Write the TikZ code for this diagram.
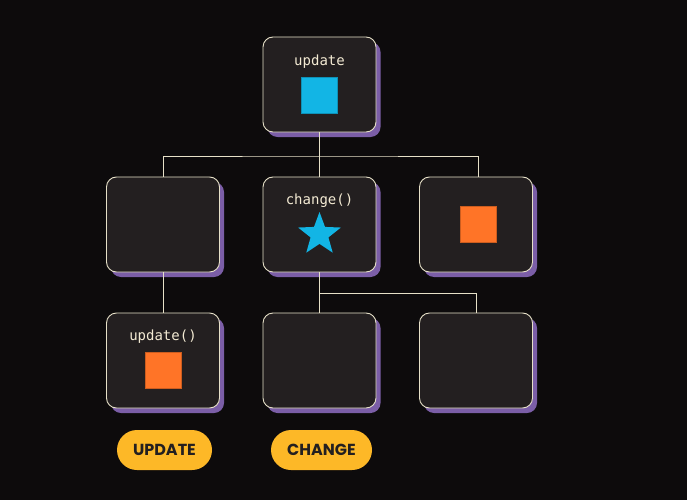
\documentclass[tikz,border=0pt]{standalone}
\usepackage{fontspec}
\setmonofont{DejaVu Sans Mono}
\newfontfamily\pillfont{Poppins}
\usetikzlibrary{shapes.geometric,shadows}

\definecolor{bgdark}{HTML}{0D0B0C}
\definecolor{boxfill}{HTML}{231F20}
\definecolor{boxline}{HTML}{E6E0C8}
\definecolor{shadowpurple}{HTML}{7B5EA7}
\definecolor{codecream}{HTML}{F3EAD3}
\definecolor{cubeblue}{HTML}{12B5E5}
\definecolor{cubeorange}{HTML}{FF7427}
\definecolor{pillyellow}{HTML}{FDB827}

\tikzset{
  statebox/.style={draw=boxline, line width=0.9pt, fill=boxfill, rounded corners=10pt,
    minimum width=113pt, minimum height=95pt, inner sep=0pt,
    general shadow={fill=shadowpurple, shadow xshift=4.5pt, shadow yshift=-5pt}},
  codelabel/.style={text=codecream, font=\ttfamily\fontsize{14}{16}\selectfont, inner sep=0pt},
  cube/.style={minimum size=36pt, inner sep=0pt, draw=#1!80!black, line width=0.4pt, fill=#1},
  pill/.style={fill=pillyellow, rounded corners=20pt, minimum height=40pt, inner sep=0pt,
    text=boxfill, font=\pillfont\bfseries\fontsize{16}{18}\selectfont},
  wire/.style={draw=boxline, line width=0.8pt}
}

\begin{document}
\begin{tikzpicture}[x=1pt, y=-1pt]

% Dimensions
\def\colA{163}
\def\colB{319.5}
\def\colC{476}
\def\rowA{84.5}
\def\rowB{224.5}
\def\rowC{360.5}

% Background
\fill[bgdark] (0,0) rectangle (687,500);
\useasboundingbox (0,0) rectangle (687,500);

% Tree of boxes
\node[statebox] (top) at (\colB,\rowA) {};
\foreach \name/\x in {ml/\colA, mc/\colB, mr/\colC} {
    \node[statebox] (\name) at (\x,\rowB) {};
}
\foreach \name/\x in {bl/\colA, bc/\colB, br/\colC} {
    \node[statebox] (\name) at (\x,\rowC) {};
}

% Connectors
\coordinate (topjoin) at (\colB,156);
\coordinate (midjoin) at (\colB,293);
\draw[wire] (top.south) -- (mc.north);
\draw[wire] (ml.north) |- (topjoin) -| ([xshift=2pt]mr.north);
\draw[wire] (ml.south) -- (bl.north);
\draw[wire] (mc.south) -- (bc.north);
\draw[wire] (midjoin) -| (br.north);

% Box contents
\node[codelabel] (toplabel) at (\colB,62) {update};
\node[cube=cubeblue] (topcube) at (\colB,95) {};

\node[codelabel] (mclabel) at (\colB,201) {change()};
\node[star, star points=5, star point ratio=2.4, minimum size=45pt, inner sep=0pt,
      fill=cubeblue] (mcstar) at (\colB,234.5) {};

\node[cube=cubeorange] (mrcube) at (\colC+2,224) {};

\node[codelabel] (bllabel) at (\colA,337) {update()};
\node[cube=cubeorange] (blcube) at (\colA,370) {};

% Buttons
\node[pill, minimum width=95pt] (updatebtn) at (164.5,450) {UPDATE};
\node[pill, minimum width=101pt] (changebtn) at (321.5,450) {CHANGE};

\end{tikzpicture}
\end{document}
